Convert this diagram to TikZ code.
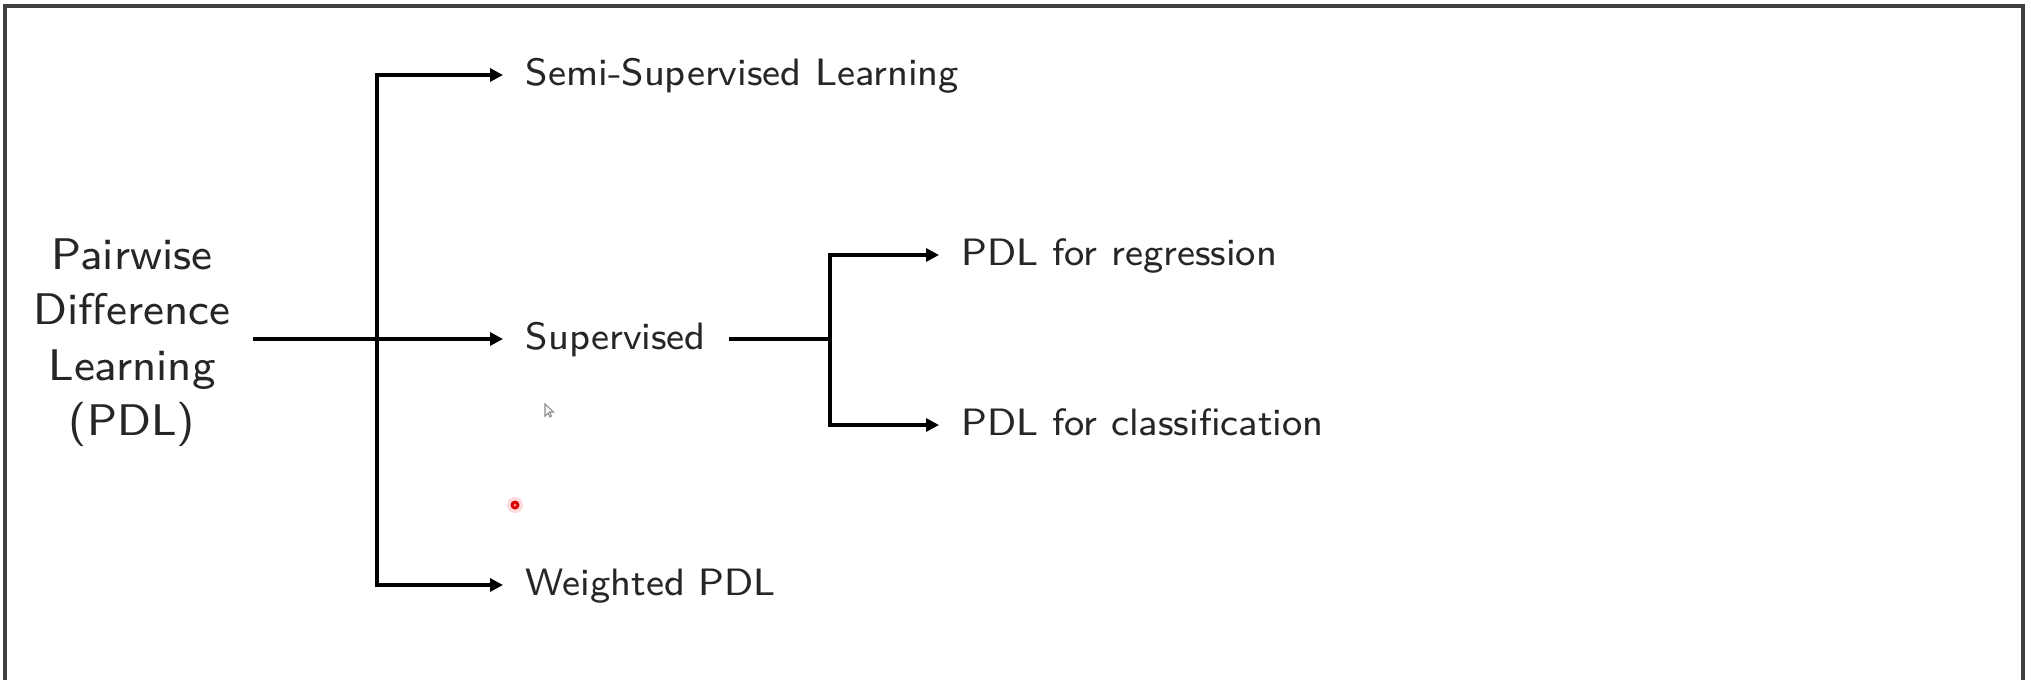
\documentclass[tikz,border=0pt]{standalone}
\usepackage{fontspec}
\newfontfamily\slidesf{lmsans8-regular}[Extension=.otf]
\usetikzlibrary{arrows.meta}
\begin{document}
\begin{tikzpicture}[
  conn/.style={line width=0.9pt, black, line join=miter},
  arr/.style={conn, -{Triangle[length=0.13cm, width=0.13cm]}},
  leaf/.style={anchor=mid west, inner xsep=0.22cm, inner ysep=0pt,
               font=\slidesf\fontsize{10.85}{13}\selectfont, text=black!85},
  rootbox/.style={align=center, inner xsep=0.22cm,
                  font=\slidesf\fontsize{12.6}{15.8}\selectfont, text=black!85},
  frame/.style={line width=0.9pt, black!75}
]
\useasboundingbox (0,0) rectangle (20.31,6.80);

% outer frame (open at the bottom edge)
\draw[frame] (0.05,0) -- (0.05,6.74) -- (20.23,6.74) -- (20.23,0);

% nodes
\node[rootbox] (root) at (1.32,3.375) {Pairwise\\Difference\\Learning\\(PDL)};
\node[leaf] (semi) at (5.03,6.02) {Semi-Supervised Learning};
\node[leaf] (sup)  at (5.03,3.38) {Supervised};
\node[leaf] (wpdl) at (5.03,0.92) {Weighted PDL};
\node[leaf] (reg)  at (9.39,4.22) {PDL for regression};
\node[leaf] (cls)  at (9.39,2.52) {PDL for classification};

% arrow entry points, slightly above the middle of the lower-case letters
\coordinate (semiIn) at ([yshift=0.03cm]semi.mid west);
\coordinate (supIn)  at ([yshift=0.03cm]sup.mid west);
\coordinate (supOut) at ([yshift=0.03cm]sup.mid east);
\coordinate (wpdlIn) at ([yshift=0.03cm]wpdl.mid west);
\coordinate (regIn)  at ([yshift=0.03cm]reg.mid west);
\coordinate (clsIn)  at ([yshift=0.03cm]cls.mid west);

% branching points
\coordinate (trunk) at (3.77,3.41);
\coordinate (fork)  at (8.30,3.41);

% connectors
\draw[arr] (root.east |- supIn) -- (supIn);
\draw[arr] (trunk) |- (semiIn);
\draw[arr] (trunk) |- (wpdlIn);
\draw[conn] (supOut) -- (fork);
\draw[arr] (fork) |- (regIn);
\draw[arr] (fork) |- (clsIn);

% pointer and laser dot
\draw[black!45, line width=0.3pt, fill=white]
  (5.45,2.76) -- (5.45,2.64) -- (5.48,2.67) -- (5.50,2.63) -- (5.515,2.64)
  -- (5.495,2.68) -- (5.535,2.68) -- cycle;
\fill[red!25, opacity=0.6] (5.15,1.75) circle (0.08);
\fill[red!85!black] (5.15,1.75) circle (0.045);
\fill[red!40] (5.15,1.75) circle (0.015);
\end{tikzpicture}
\end{document}
